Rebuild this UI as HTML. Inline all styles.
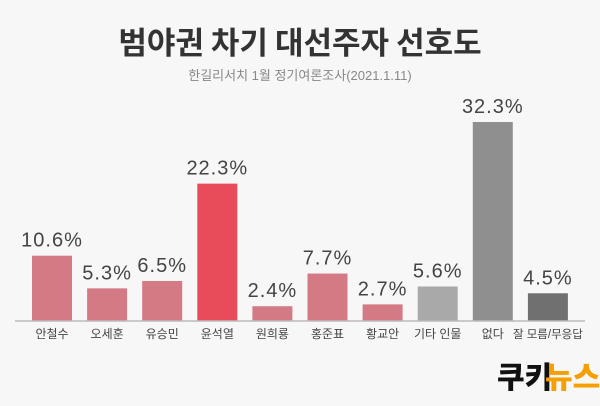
<!DOCTYPE html>
<html><head><meta charset="utf-8"><style>
body{margin:0;width:600px;height:406px;background:#f7f7f7;overflow:hidden;font-family:"Liberation Sans","Noto Sans CJK KR",sans-serif}
svg{display:block}
</style></head><body>
<svg width="600" height="406">
<rect width="600" height="406" fill="#f7f7f7"/>
<text x="300" y="54" text-anchor="middle" font-size="31" font-weight="bold" fill="#333" font-family="Noto Sans CJK KR, sans-serif">범야권 차기 대선주자 선호도</text>
<text x="300" y="80" text-anchor="middle" font-size="13" fill="#888">한길리서치 1월 정기여론조사(2021.1.11)</text>
<g id="bars"></g>
<line x1="15" x2="585" y1="321" y2="321" stroke="#bbb" stroke-width="1.5"/>
<g font-family="Noto Sans CJK KR, sans-serif" font-weight="900" font-size="30">
<text x="497" y="388" fill="#111">쿠키</text><text x="545" y="388" fill="#f5a000">뉴스</text>
</g>
</svg>
<script>
const categories=["안철수","오세훈","유승민","윤석열","원희룡","홍준표","황교안","기타 인물","없다","잘 모름/무응답"];
const values=[10.6,5.3,6.5,22.3,2.4,7.7,2.7,5.6,32.3,4.5];
const labels=["10.6%","5.3%","6.5%","22.3%","2.4%","7.7%","2.7%","5.6%","32.3%","4.5%"];
const colors=["#d47a85","#d47a85","#d47a85","#e84c5a","#d47a85","#d47a85","#d47a85","#a9a9a9","#8f8f8f","#707070"];
const NS="http://www.w3.org/2000/svg";
const base=321,scale=6.16;
const xc=i=>52+i*55.1;
const y=v=>base-v*scale;
const g=document.getElementById('bars');
categories.forEach((c,i)=>{
 const r=document.createElementNS(NS,'rect');
 r.setAttribute('x',xc(i)-20);r.setAttribute('width',40);
 r.setAttribute('y',y(values[i]));r.setAttribute('height',base-y(values[i]));
 r.setAttribute('fill',colors[i]);
 
 
 g.appendChild(r);
 const t=document.createElementNS(NS,'text');
 t.setAttribute('x',xc(i));t.setAttribute('y',y(values[i])-9);
 t.setAttribute('text-anchor','middle');t.setAttribute('font-size','20');t.setAttribute('fill','#444');t.setAttribute('letter-spacing','1');
 t.textContent=labels[i];
 
 
 g.appendChild(t);
 const l=document.createElementNS(NS,'text');
 l.setAttribute('x',xc(i));l.setAttribute('y',338);
 l.setAttribute('text-anchor','middle');l.setAttribute('font-size',i==9?'11.5':'12');l.setAttribute('fill','#444');
 l.textContent=c;
 
 
 g.appendChild(l);
});
</script>
</body></html>
